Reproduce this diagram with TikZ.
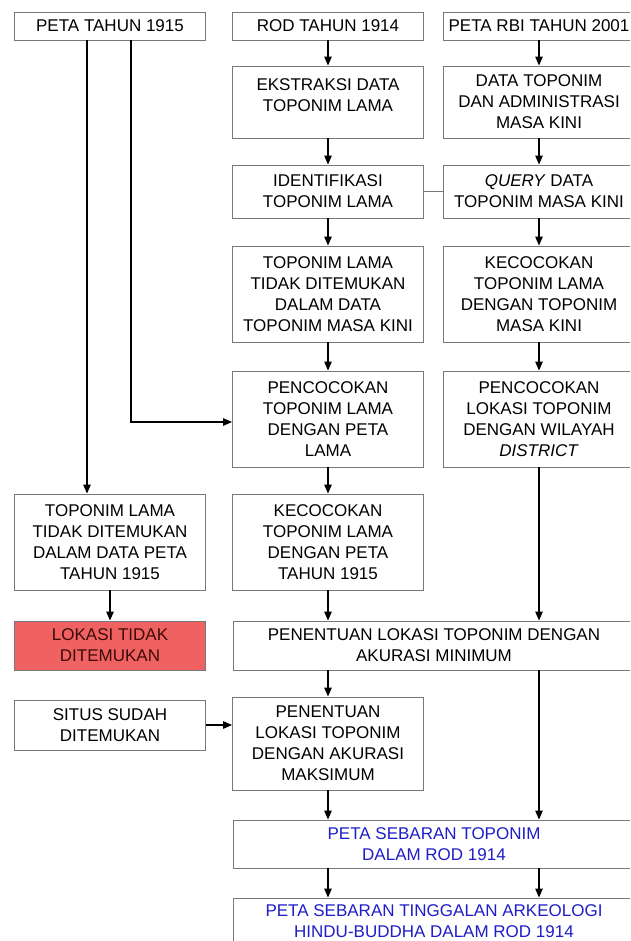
\documentclass[tikz,border=0pt]{standalone}
\usepackage{fontspec}
\setmainfont{Liberation Sans}
\usetikzlibrary{arrows.meta,calc}
\definecolor{boxgray}{RGB}{120,120,120}
\definecolor{redfill}{RGB}{240,98,98}
\definecolor{redtext}{RGB}{60,10,10}
\definecolor{bluetext}{RGB}{30,30,200}
\begin{document}
\begin{tikzpicture}[x=1pt,y=-1pt,
  box/.style={draw=boxgray,line width=0.9pt,fill=white,rectangle,align=center,inner sep=0pt,
    font=\fontsize{17}{21}\selectfont,minimum width=191pt},
  wbox/.style={box,minimum width=402pt},
  arr/.style={-{Triangle[length=9pt,width=7.5pt]},line width=1.2pt,black},
  ln/.style={line width=1.2pt,black}]
\useasboundingbox (0,0) rectangle (630,941);
\clip (0,0) rectangle (630,941);
% row 1
\node[box,minimum height=28pt] (p1915) at (110,26) {PETA TAHUN 1915};
\node[box,minimum height=28pt] (rod) at (328,26) {ROD TAHUN 1914};
\node[box,minimum height=28pt,minimum width=192pt] (rbi) at (539,26) {PETA RBI TAHUN 2001};
% row 2
\node[box,minimum height=72pt] (eks) at (328,102) {EKSTRAKSI DATA\\TOPONIM LAMA\\[-8pt]\mbox{}};
\node[box,minimum height=72pt,minimum width=192pt] (dat) at (539,102) {DATA TOPONIM\\DAN ADMINISTRASI\\MASA KINI};
% row 3
\node[box,minimum height=53pt] (ide) at (328,191.5) {IDENTIFIKASI\\TOPONIM LAMA};
\node[box,minimum height=53pt,minimum width=192pt] (qry) at (539,191.5) {\textit{QUERY} DATA\\TOPONIM MASA KINI};
% row 4
\node[box,minimum height=96pt] (tid) at (328,294) {TOPONIM LAMA\\TIDAK DITEMUKAN\\DALAM DATA\\TOPONIM MASA KINI};
\node[box,minimum height=96pt,minimum width=192pt] (kec) at (539,294) {KECOCOKAN\\TOPONIM LAMA\\DENGAN TOPONIM\\MASA KINI};
% row 5
\node[box,minimum height=96pt] (pen) at (328,419) {PENCOCOKAN\\TOPONIM LAMA\\DENGAN PETA\\LAMA};
\node[box,minimum height=96pt,minimum width=192pt] (lok) at (539,419) {PENCOCOKAN\\LOKASI TOPONIM\\DENGAN WILAYAH\\\textit{DISTRICT}};
% row 6
\node[box,minimum height=96pt] (ltd) at (110,542) {TOPONIM LAMA\\TIDAK DITEMUKAN\\DALAM DATA PETA\\TAHUN 1915};
\node[box,minimum height=96pt] (k15) at (328,542) {KECOCOKAN\\TOPONIM LAMA\\DENGAN PETA\\TAHUN 1915};
% row 7
\node[box,minimum height=49pt,fill=redfill,text=redtext] (red) at (110,645.5) {LOKASI TIDAK\\DITEMUKAN};
\node[wbox,minimum height=49pt] (min) at (434,645.5) {PENENTUAN LOKASI TOPONIM DENGAN\\AKURASI MINIMUM};
% row 8
\node[box,minimum height=50pt] (sit) at (110,725) {SITUS SUDAH\\DITEMUKAN};
\node[box,minimum height=93pt] (mak) at (328,743.5) {PENENTUAN\\LOKASI TOPONIM\\DENGAN AKURASI\\MAKSIMUM};
% row 9
\node[wbox,minimum height=48pt,text=bluetext] (pst) at (434,844) {PETA SEBARAN TOPONIM\\DALAM ROD 1914};
\node[wbox,minimum height=46pt,text=bluetext] (ptg) at (434,921) {PETA SEBARAN TINGGALAN ARKEOLOGI\\HINDU-BUDDHA DALAM ROD 1914};
% connectors middle column
\draw[arr] (rod.south) -- (eks.north);
\draw[arr] (eks.south) -- (ide.north);
\draw[arr] (ide.south) -- (tid.north);
\draw[arr] (tid.south) -- (pen.north);
\draw[arr] (pen.south) -- (k15.north);
\draw[arr] (k15.south) -- (k15.south |- min.north);
\draw[arr] (k15.south |- min.south) -- (mak.north);
\draw[arr] (mak.south) -- (mak.south |- pst.north);
\draw[arr] (mak.south |- pst.south) -- (mak.south |- ptg.north);
% right column
\draw[arr] (rbi.south) -- (dat.north);
\draw[arr] (dat.south) -- (qry.north);
\draw[arr] (qry.south) -- (kec.north);
\draw[arr] (kec.south) -- (lok.north);
\draw[arr] (lok.south) -- (lok.south |- min.north);
\draw[arr] (lok.south |- min.south) -- (lok.south |- pst.north);
\draw[arr] (lok.south |- pst.south) -- (lok.south |- ptg.north);
% link identifikasi - query
\draw[draw=boxgray,line width=0.9pt] (ide.east) -- (qry.west);
% left column
\draw[arr] ([xshift=-23pt]p1915.south) -- ([xshift=-23pt]p1915.south |- ltd.north);
\draw[arr] ([xshift=21pt]p1915.south) |- ([yshift=-3pt]pen.west);
\draw[arr] (ltd.south) -- (red.north);
\draw[arr] (sit.east) -- (sit.east -| mak.west);
\end{tikzpicture}
\end{document}
